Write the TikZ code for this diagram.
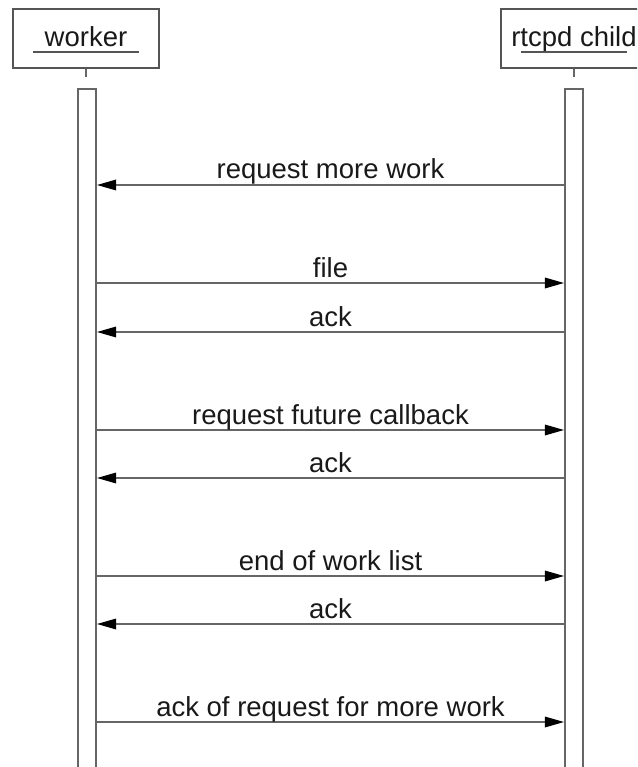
\documentclass[tikz,border=0pt]{standalone}
\usepackage{fontspec}
\setmainfont{Liberation Sans}
\usetikzlibrary{arrows.meta}
\definecolor{lineg}{HTML}{666666}
\definecolor{boxg}{HTML}{555555}
\tikzset{
  objbox/.style={draw=boxg, line width=2.2pt, minimum width=146pt, minimum height=59pt, inner sep=0pt},
  lifebar/.style={draw=lineg, line width=2.2pt, minimum width=18pt, minimum height=720pt, inner sep=0pt, anchor=north},
  stub/.style={draw=lineg, line width=2.2pt},
  uline/.style={draw=boxg, line width=2.2pt},
  msg/.style={draw=lineg, line width=2.4pt, -{Triangle[length=19pt,width=11pt,fill=black,line width=0pt]}},
  lbl/.style={anchor=base, yshift=6pt, inner sep=0pt, text=black!90}
}
\begin{document}
\begin{tikzpicture}[x=1pt,y=-1pt,font=\fontsize{27.5}{31}\selectfont]
\useasboundingbox (0,0) rectangle (637,767);
\clip (0,0) rectangle (637,767);

% participants
\node[objbox] (w) at (86,38.5) {};
\node[objbox] (r) at (574,38.5) {};
\node[anchor=base, inner sep=0pt, text=black!90] (wt) at (86,47) {worker};
\node[anchor=base, inner sep=0pt, text=black!90] (rt) at (574,47) {rtcpd child};
\draw[uline] (33,52) -- (139,52);
\draw[uline] (521,52) -- (627,52);

% lifelines
\node[lifebar] (wb) at (87,88) {};
\node[lifebar] (rb) at (574,88) {};
\coordinate (ws) at (86,77);
\coordinate (rs) at (574,77);
\draw[stub] (w.south) -- (ws);
\draw[stub] (r.south) -- (rs);

% messages
\draw[msg] (rb.west |- 0,185) -- node[lbl] {request more work} (wb.east |- 0,185);
\draw[msg] (wb.east |- 0,283) -- node[lbl] {file} (rb.west |- 0,283);
\draw[msg] (rb.west |- 0,332) -- node[lbl] {ack} (wb.east |- 0,332);
\draw[msg] (wb.east |- 0,430) -- node[lbl] {request future callback} (rb.west |- 0,430);
\draw[msg] (rb.west |- 0,478) -- node[lbl] {ack} (wb.east |- 0,478);
\draw[msg] (wb.east |- 0,576) -- node[lbl] {end of work list} (rb.west |- 0,576);
\draw[msg] (rb.west |- 0,624) -- node[lbl] {ack} (wb.east |- 0,624);
\draw[msg] (wb.east |- 0,722) -- node[lbl] {ack of request for more work} (rb.west |- 0,722);
\end{tikzpicture}
\end{document}
